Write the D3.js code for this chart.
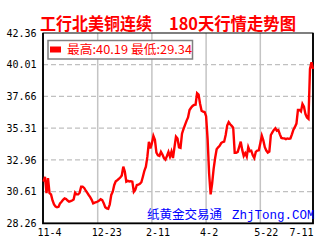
<!DOCTYPE html>
<html>
<head>
<meta charset="utf-8">
<script src="https://cdn.jsdelivr.net/npm/d3@7"></script>
<style>
  body { margin: 0; background: #fff; }
  svg { display: block; }
</style>
</head>
<body>
<script>
const titleParts = ['工行北美铜连续', '180天行情走势图']
const dateLabels = ['11-4', '12-23', '2-11', '4-2', '5-22', '7-11']
const dateTicks = [0, 36, 72, 108, 144, 180]
const priceTicks = [28.26, 30.61, 32.96, 35.31, 37.66, 40.01, 42.36]

// 180 daily closes
const closes = [
  31.35, 31.70, 30.50, 31.60, 30.50, 30.40, 29.95, 29.65, 29.50, 29.45,
  29.48, 29.74, 29.86, 30.00, 30.11, 30.06, 29.95, 29.86, 29.90, 29.95,
  30.02, 30.53, 30.40, 30.40, 30.53, 30.97, 30.97, 30.88, 30.70, 30.53,
  30.36, 30.20, 30.00, 29.74, 29.79, 29.82, 29.88, 29.95, 30.04, 29.98,
  29.75, 29.45, 29.37, 29.34, 29.65, 30.36, 30.60, 31.10, 31.38, 31.45,
  31.55, 31.65, 31.80, 32.46, 32.10, 31.34, 31.40, 31.36, 31.38, 31.35,
  30.60, 30.75, 31.10, 31.12, 31.18, 31.30, 31.71, 32.15, 32.45, 33.20,
  34.30, 33.80, 34.20, 34.73, 34.45, 33.50, 33.30, 33.25, 33.55, 33.35,
  33.10, 32.98, 33.25, 33.55, 33.20, 33.57, 33.10, 33.90, 34.68, 34.55,
  33.89, 33.85, 34.90, 35.25, 35.55, 35.85, 36.10, 36.65, 36.82, 36.95,
  37.03, 37.05, 37.90, 37.80, 37.12, 36.60, 36.53, 36.50, 36.20, 34.50,
  31.95, 30.40, 31.20, 32.30, 33.10, 33.75, 33.89, 34.00, 34.20, 34.28,
  34.31, 34.80, 35.50, 35.75, 35.60, 35.48, 35.35, 33.49, 33.49, 33.55,
  33.92, 34.31, 33.70, 33.25, 33.45, 33.20, 33.90, 33.60, 33.64, 33.30,
  33.10, 33.55, 33.64, 33.67, 34.20, 34.75, 34.40, 33.90, 33.65, 33.50,
  33.57, 34.80, 35.00, 35.18, 35.30, 35.12, 35.17, 34.85, 34.58, 34.56,
  34.55, 34.50, 34.55, 34.52, 34.55, 34.85, 35.20, 35.40, 35.65, 36.66,
  36.66, 36.55, 37.10, 36.90, 36.35, 36.10, 36.00, 39.70, 40.19, 39.70
]

const width = 320
const height = 240
const margin = { top: 33, right: 7, bottom: 17, left: 43 }
const mono = "'DejaVu Sans Mono', monospace"
const cjk = "'Noto Sans CJK SC', sans-serif"

const svg = d3.select('body').append('svg')
  .attr('width', width)
  .attr('height', height)
  .attr('viewBox', [0, 0, width, height])

const x = d3.scaleLinear().domain([0, closes.length - 1]).range([margin.left + 0.5, width - margin.right])
const y = d3.scaleLinear().domain([28.26, 42.36]).range([height - margin.bottom + 0.3, margin.top])

// vertical grid
svg.append('g')
  .selectAll('line')
  .data(dateTicks.filter(d => d > 0 && x(d) < width - margin.right))
  .join('line')
    .attr('x1', d => x(d)).attr('x2', d => x(d))
    .attr('y1', margin.top).attr('y2', y(28.26))
    .attr('stroke', '#c4c4c4')
    .attr('stroke-width', 1.5)

// horizontal dashed grid
svg.append('g')
  .selectAll('line')
  .data(priceTicks.slice(1, -1))
  .join('line')
    .attr('x1', margin.left).attr('x2', width - margin.right)
    .attr('y1', d => y(d)).attr('y2', d => y(d))
    .attr('stroke', '#c0c0c0')
    .attr('stroke-width', 1.2)
    .attr('stroke-dasharray', '5 3')

// y labels
const yAxis = svg.append('g')
  .attr('transform', `translate(${margin.left - 6.5},0)`)
  .call(d3.axisLeft(y).tickValues(priceTicks).tickFormat(d3.format('.2f')).tickSize(0).tickPadding(0))
yAxis.select('.domain').remove()
yAxis.selectAll('text')
  .attr('font-family', mono)
  .attr('font-size', 10)
  .attr('fill', '#000')

// x labels, left-aligned a little before each tick, last one kept inside
const xAxis = svg.append('g')
  .attr('transform', `translate(0,${y(28.26) + 9})`)
  .call(d3.axisBottom(x).tickValues(dateTicks).tickFormat((d, i) => dateLabels[i]).tickSize(0).tickPadding(0))
xAxis.select('.domain').remove()
xAxis.selectAll('text')
  .attr('font-family', mono)
  .attr('font-size', 10)
  .attr('fill', '#000')
  .attr('text-anchor', 'start')
  .attr('dy', '0.32em')
  .attr('x', function (d) {
    const w = this.getComputedTextLength()
    return Math.min(-6.5, width - margin.right - x(d) - w)
  })

// frame
svg.append('rect')
  .attr('x', margin.left).attr('y', margin.top)
  .attr('width', width - margin.right - margin.left)
  .attr('height', y(28.26) - margin.top)
  .attr('fill', 'none')
  .attr('stroke', '#000')
  .attr('stroke-width', 1)
svg.append('path')
  .attr('d', `M${margin.left},${margin.top}V${y(28.26)}H${width - margin.right}V${margin.top}`)
  .attr('fill', 'none')
  .attr('stroke', '#000')
  .attr('stroke-width', 1.8)

// watermark
const mark = svg.append('text')
  .attr('x', 147)
  .attr('y', 219)
  .attr('fill', '#0000ff')
mark.append('tspan').attr('font-family', cjk).attr('font-size', 12.5).text('纸黄金交易通')
mark.append('tspan').attr('x', 232).attr('font-family', "'Liberation Mono', monospace").attr('font-size', 12.5).text('ZhjTong.COM')

// price line
svg.append('path')
  .datum(closes)
  .attr('fill', 'none')
  .attr('stroke', '#ff0000')
  .attr('stroke-width', 2.4)
  .attr('stroke-linejoin', 'miter')
  .attr('d', d3.line().x((d, i) => x(i)).y(d => y(d)))

// legend
const legend = svg.append('g')
legend.append('rect')
  .attr('x', 48).attr('y', 40.5)
  .attr('width', 144.5).attr('height', 18.5)
  .attr('fill', '#fff')
  .attr('stroke', '#808080')
  .attr('stroke-width', 1.5)
legend.append('rect')
  .attr('x', 50).attr('y', 46.5)
  .attr('width', 11).attr('height', 6)
  .attr('fill', '#ff0000')
legend.append('text')
  .attr('x', 67).attr('y', 54)
  .attr('font-family', cjk)
  .attr('font-size', 12)
  .attr('fill', '#ff0000')
  .attr('textLength', 125)
  .attr('lengthAdjust', 'spacingAndGlyphs')
  .text(`最高:${d3.max(closes).toFixed(2)} 最低:${d3.min(closes).toFixed(2)}`)

// title, two runs with the wide gap between them
const title = svg.append('g')
  .attr('font-family', cjk)
  .attr('font-weight', 'bold')
  .attr('font-size', 17)
  .attr('fill', '#ff0000')
title.append('text')
  .attr('x', 40).attr('y', 29.5)
  .attr('textLength', 112)
  .attr('lengthAdjust', 'spacingAndGlyphs')
  .text(titleParts[0])
title.append('text')
  .attr('x', 169).attr('y', 29.5)
  .attr('textLength', 127)
  .attr('lengthAdjust', 'spacingAndGlyphs')
  .text(titleParts[1])
</script>
</body>
</html>
